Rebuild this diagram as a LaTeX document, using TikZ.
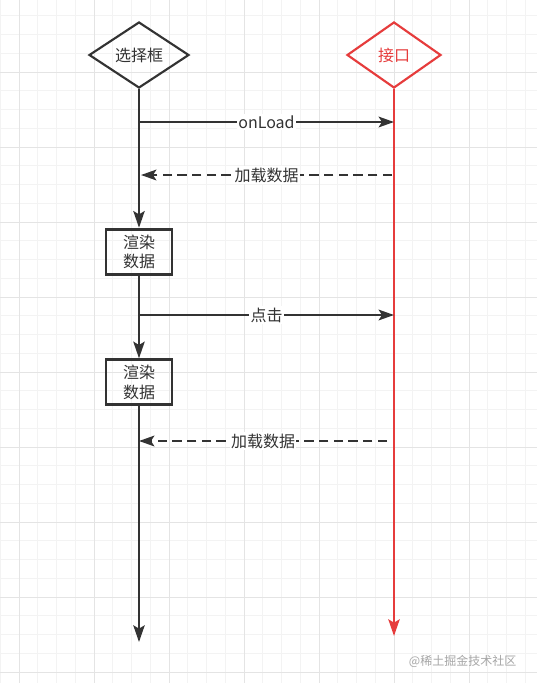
\documentclass[tikz,border=0pt]{standalone}
\usepackage{fontspec}
\setmainfont{Noto Sans CJK SC}
\usepackage{xcolor}
\usetikzlibrary{arrows.meta,positioning,shapes.geometric}

\definecolor{ink}{HTML}{333333}
\definecolor{apired}{HTML}{E63C3C}
\definecolor{gridminor}{HTML}{F3F3F3}
\definecolor{gridmajor}{HTML}{E4E4E4}

\begin{document}
\begin{tikzpicture}[
  x=0.75pt, y=-0.75pt,
  font=\fontsize{12pt}{14.6pt}\selectfont,
  decision/.style={diamond, draw=ink, line width=1.6pt, inner sep=0pt, minimum width=75pt, minimum height=49.5pt, text=ink},
  stepbox/.style={rectangle, draw=ink, line width=2.2pt, minimum width=49.5pt, minimum height=33.75pt, align=center, inner sep=0pt, text=ink},
  life/.style={draw=ink, line width=1.7pt, -{Stealth[length=12.5pt,width=8.5pt,inset=2.5pt]}},
  msg/.style={draw=ink, line width=1.7pt, -{Stealth[length=11.5pt,width=8pt,inset=2.5pt]}},
  ret/.style={msg, dash pattern=on 7pt off 4pt},
  lbl/.style={fill=white, inner sep=1pt, text=ink}
]
  \useasboundingbox (0,0) rectangle (537,683);
  \fill[white] (0,0) rectangle (537,683);

  % background grid
  \foreach \gx in {0.25,19,...,537} \draw[gridminor, line width=0.75pt] (\gx,0) -- (\gx,683);
  \foreach \gy in {-3,15.75,...,683} \draw[gridminor, line width=0.75pt] (0,\gy) -- (537,\gy);
  \foreach \gx in {19,94,...,537} \draw[gridmajor, line width=0.75pt] (\gx,0) -- (\gx,683);
  \foreach \gy in {-3,72,...,683} \draw[gridmajor, line width=0.75pt] (0,\gy) -- (537,\gy);

  % participants
  \node[decision] (sel) at (139,55) {选择框};
  \node[decision, draw=apired, text=apired, minimum width=70.5pt] (api) at (394,55) {接口};

  \node[stepbox, below=104pt of sel] (render1) {渲染\\数据};
  \node[stepbox, below=62pt of render1] (render2) {渲染\\数据};

  \coordinate (selend) at (139,642);
  \coordinate (apiend) at (394,636);

  % lifelines
  \draw[life] (sel.south) -- (render1.north);
  \draw[life] (render1.south) -- (render2.north);
  \draw[life] (render2.south) -- (selend);
  \draw[life, draw=apired] (api.south) -- (apiend);

  % messages
  \coordinate (load1) at (139,122);
  \coordinate (load2) at (394,122);
  \coordinate (back1) at (392,175);
  \coordinate (back2) at (141,175);
  \coordinate (click1) at (139,315);
  \coordinate (click2) at (394,315);
  \coordinate (back3) at (387,441);
  \coordinate (back4) at (139,441);

  \draw[msg] (load1) -- node[lbl] {onLoad} (load2);
  \draw[ret] (back1) -- node[lbl] {加载数据} (back2);
  \draw[msg] (click1) -- node[lbl] {点击} (click2);
  \draw[ret] (back3) -- node[lbl] {加载数据} (back4);

  \node[anchor=east, text=black!35, font=\fontsize{9pt}{11pt}\selectfont] (mark) at (521,661) {@稀土掘金技术社区};
\end{tikzpicture}
\end{document}
